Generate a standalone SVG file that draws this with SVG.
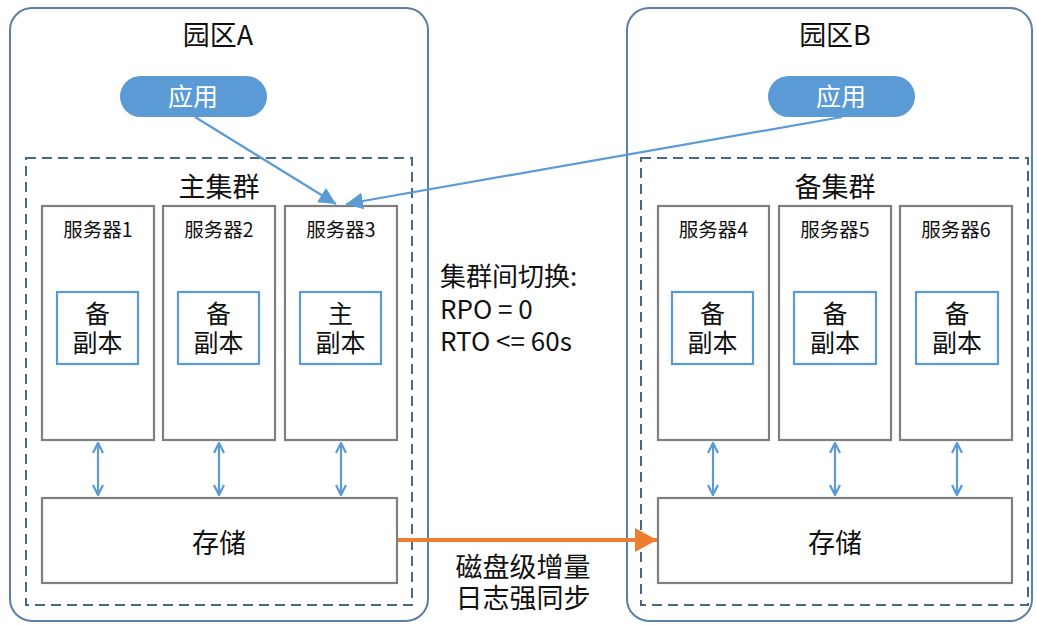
<svg xmlns="http://www.w3.org/2000/svg" width="1037" height="625" viewBox="0 0 1037 625">
<defs>
<style>
.zone{fill:#fff;stroke:#5a7fa8;stroke-width:2}
.cluster{fill:none;stroke:#4a6685;stroke-width:2;stroke-dasharray:10 6}
.srv{fill:#fff;stroke:#7f7f7f;stroke-width:2.2}
.rep{fill:#fff;stroke:#5b9bd5;stroke-width:2.2}
.app{fill:#5b9bd5}
text{font-family:"Noto Sans CJK SC","Microsoft YaHei",sans-serif;fill:#111;text-anchor:middle}
.t26{font-size:27px}
.t18{font-size:19.5px}
.t24{font-size:25px}
.tr{font-size:25px}
.w{fill:#fff}
.lnk{stroke:#5b9bd5;stroke-width:2.2;fill:none}
.dbl{stroke:#5b9bd5;stroke-width:2.2;fill:none;marker-start:url(#chev);marker-end:url(#chev)}
.sync{stroke:#ed7d31;stroke-width:4;fill:none}
.lt{text-anchor:start;font-size:26px}
.big{font-size:27px}
</style>
<marker id="chev" viewBox="0 0 12 12" refX="11" refY="6" markerWidth="12" markerHeight="12" markerUnits="userSpaceOnUse" orient="auto-start-reverse">
<path d="M1,1 L11,6 L1,11" fill="none" stroke="#5b9bd5" stroke-width="2.2"/>
</marker>
<marker id="tri" viewBox="0 0 16 16" refX="16" refY="8" markerWidth="17" markerHeight="17" markerUnits="userSpaceOnUse" orient="auto">
<path d="M0,0 L16,8 L0,16 Z" fill="#5b9bd5"/>
</marker>
<marker id="otri" viewBox="0 0 22 24" refX="22" refY="12" markerWidth="22" markerHeight="24" markerUnits="userSpaceOnUse" orient="auto">
<path d="M0,0 L22,12 L0,24 Z" fill="#ed7d31"/>
</marker>
</defs>
<rect width="1037" height="625" fill="#fff"/>

<g id="zoneA">
<rect class="zone" x="10" y="8" width="418" height="613" rx="22"/>
<text class="t26" x="218" y="45">园区A</text>
</g>
<g id="zoneB">
<rect class="zone" x="627" y="8" width="405" height="613" rx="22"/>
<text class="t26" x="835" y="45">园区B</text>
</g>

<g id="clusterA">
<rect class="cluster" x="26" y="158" width="386" height="447"/>
<text class="t26" x="219" y="197">主集群</text>
</g>
<g id="clusterB">
<rect class="cluster" x="641" y="158" width="387" height="447"/>
<text class="t26" x="835" y="197">备集群</text>
</g>

<g id="appA">
<rect class="app" x="120" y="76" width="147" height="41" rx="20.5"/>
<text class="tr w" x="193" y="106">应用</text>
</g>
<g id="appB">
<rect class="app" x="768" y="76" width="147" height="41" rx="20.5"/>
<text class="tr w" x="841" y="106">应用</text>
</g>

<g id="server1">
<rect class="srv" x="42" y="206" width="112" height="234"/>
<text class="t18" x="98" y="237">服务器1</text>
<rect class="rep" x="57" y="292" width="81" height="72"/>
<text class="t24" x="97.5" y="323">备<tspan x="97.5" dy="29">副本</tspan></text>
</g>
<g id="server2">
<rect class="srv" x="163" y="206" width="112" height="234"/>
<text class="t18" x="219" y="237">服务器2</text>
<rect class="rep" x="178" y="292" width="81" height="72"/>
<text class="t24" x="218.5" y="323">备<tspan x="218.5" dy="29">副本</tspan></text>
</g>
<g id="server3">
<rect class="srv" x="285" y="206" width="112" height="234"/>
<text class="t18" x="341" y="237">服务器3</text>
<rect class="rep" x="300" y="292" width="81" height="72"/>
<text class="t24" x="340.5" y="323">主<tspan x="340.5" dy="29">副本</tspan></text>
</g>
<g id="server4">
<rect class="srv" x="658" y="206" width="111" height="234"/>
<text class="t18" x="713.5" y="237">服务器4</text>
<rect class="rep" x="672" y="292" width="81" height="72"/>
<text class="t24" x="712.5" y="323">备<tspan x="712.5" dy="29">副本</tspan></text>
</g>
<g id="server5">
<rect class="srv" x="779" y="206" width="112" height="234"/>
<text class="t18" x="835" y="237">服务器5</text>
<rect class="rep" x="794" y="292" width="82" height="72"/>
<text class="t24" x="835" y="323">备<tspan x="835" dy="29">副本</tspan></text>
</g>
<g id="server6">
<rect class="srv" x="900" y="206" width="112" height="234"/>
<text class="t18" x="956" y="237">服务器6</text>
<rect class="rep" x="916" y="292" width="82" height="72"/>
<text class="t24" x="957" y="323">备<tspan x="957" dy="29">副本</tspan></text>
</g>

<g id="storageA">
<rect class="srv" x="42" y="498" width="355" height="85"/>
<text class="big" x="219" y="553">存储</text>
</g>
<g id="storageB">
<rect class="srv" x="658" y="498" width="354" height="85"/>
<text class="big" x="835" y="553">存储</text>
</g>

<g id="switchNote">
<text class="lt" x="440" y="286">集群间切换:<tspan x="440" dy="33">RPO = 0</tspan><tspan x="440" dy="32">RTO &lt;= 60s</tspan></text>
</g>

<g id="connectors">
<line class="lnk" x1="195" y1="117" x2="336" y2="204" marker-end="url(#tri)"/>
<line class="lnk" x1="842" y1="117" x2="346" y2="204" marker-end="url(#tri)"/>
<line class="dbl" x1="98" y1="443" x2="98" y2="495"/>
<line class="dbl" x1="219" y1="443" x2="219" y2="495"/>
<line class="dbl" x1="341" y1="443" x2="341" y2="495"/>
<line class="dbl" x1="713" y1="443" x2="713" y2="495"/>
<line class="dbl" x1="835" y1="443" x2="835" y2="495"/>
<line class="dbl" x1="957" y1="443" x2="957" y2="495"/>
<line class="sync" x1="398" y1="540" x2="657" y2="540" marker-end="url(#otri)"/>
<text class="big" x="523" y="577">磁盘级增量<tspan x="523" dy="31">日志强同步</tspan></text>
</g>
</svg>
